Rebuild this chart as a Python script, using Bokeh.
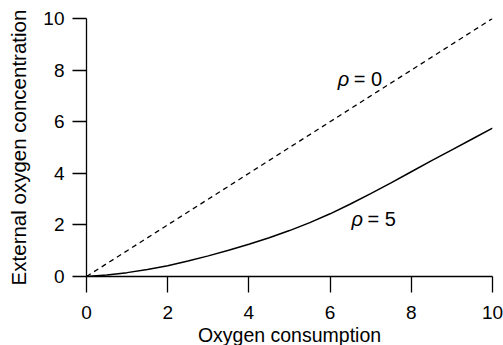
from bokeh.plotting import figure
from bokeh.models import Range1d, FixedTicker, ColumnDataSource, Title
from bokeh.core.properties import value
from bokeh.embed import file_html
from bokeh.resources import INLINE

# Data
x_consumption = [0, 0.5, 1, 1.5, 2, 2.5, 3, 3.5, 4, 4.5, 5, 5.5, 6, 6.5, 7, 7.5, 8, 8.5, 9, 9.5, 10]
y_rho5 = [0, 0.06, 0.15, 0.27, 0.42, 0.60, 0.80, 1.02, 1.25, 1.50, 1.78, 2.09, 2.43, 2.81, 3.21, 3.63, 4.06, 4.49, 4.91, 5.33, 5.75]
x_rho0 = [0, 10]
y_rho0 = [0, 10]
ticks = [0, 2, 4, 6, 8, 10]
label_x = [6.19, 6.53]
label_y = [7.66, 2.22]
label_sym = ["ρ", "ρ"]
label_rest = ["= 0", "= 5"]
x_title = "Oxygen consumption"
y_title = "External oxygen concentration"

FONT = "Liberation Sans"

p = figure(width=503, height=345, output_backend="svg", toolbar_location=None,
           x_range=Range1d(0, 10), y_range=Range1d(0, 10),
           min_border_left=86, min_border_right=11, min_border_top=18, min_border_bottom=69)
p.outline_line_color = None
p.grid.visible = False
p.background_fill_color = "white"
p.border_fill_color = "white"

p.line(x_rho0, y_rho0, line_color="black", line_width=1.3, line_dash="5 4")
p.line(x_consumption, y_rho5, line_color="black", line_width=1.5)

src = ColumnDataSource(dict(x=label_x, y=label_y, sym=label_sym, rest=label_rest))
p.text(x="x", y="y", text="sym", source=src, text_font=value(FONT), text_font_size="20px",
       text_font_style="italic", text_baseline="alphabetic", text_align="left", text_color="black")
p.text(x="x", y="y", text="rest", source=src, text_font=value(FONT), text_font_size="20px",
       text_baseline="alphabetic", text_align="left", text_color="black", x_offset=16)

for ax in (p.xaxis[0], p.yaxis[0]):
    ax.ticker = FixedTicker(ticks=ticks)
    ax.minor_tick_line_color = None
    ax.major_tick_in = 0
    ax.axis_line_color = "black"
    ax.axis_line_width = 1.3
    ax.major_tick_line_color = "black"
    ax.major_tick_line_width = 1.3
    ax.major_label_text_font = FONT
    ax.major_label_text_font_size = "19px"
    ax.major_label_text_color = "black"
    ax.axis_label_text_font = FONT
    ax.axis_label_text_font_style = "normal"
    ax.axis_label_text_color = "black"

p.xaxis.major_tick_out = 16
p.xaxis.major_label_standoff = 13

# x-axis title placed below the tick labels
p.add_layout(Title(text=x_title, align="center", text_font=FONT, text_font_size="19.5px",
                   text_font_style="normal", text_color="black", standoff=0, offset=0), "below")

p.yaxis.axis_label = y_title
p.yaxis.major_tick_out = 14
p.yaxis.major_label_standoff = 8
p.yaxis.axis_label_standoff = 10
p.yaxis.axis_label_text_font_size = "20.5px"

open("out.html", "w").write(file_html(p, INLINE))
